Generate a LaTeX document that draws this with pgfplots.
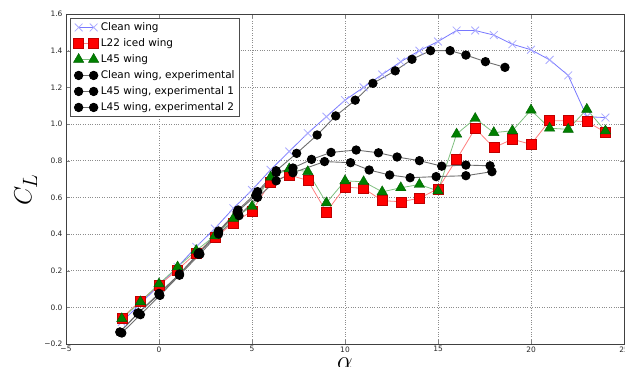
\documentclass[border=0pt]{standalone}
\usepackage{pgfplots}
\pgfplotsset{compat=1.18}
\usepackage{fontspec}
\setmainfont{DejaVu Sans}
\definecolor{cleanline}{RGB}{120,120,255}
\definecolor{cleanmark}{RGB}{170,170,255}
\definecolor{redline}{RGB}{255,128,128}
\definecolor{greenline}{RGB}{128,192,128}
\definecolor{mgreen}{RGB}{0,128,0}
\definecolor{grayline}{RGB}{110,110,110}

\pgfplotstableread{
a cl
-2 -0.08
-1 0.02
0 0.12
1 0.22
2 0.33
3 0.43
4 0.54
5 0.64
6 0.75
7 0.85
8 0.95
9 1.04
10 1.13
11 1.20
12 1.27
13 1.34
14 1.40
15 1.45
16 1.51
17 1.51
18 1.485
19 1.435
20 1.405
21 1.35
22 1.265
23 1.04
24 1.035
}\clean

\pgfplotstableread{
a cl
-2 -0.058
-1 0.035
0 0.12
1 0.205
2 0.296
3 0.38
4 0.46
5 0.525
6 0.683
7 0.722
8 0.692
9 0.52
10 0.656
11 0.649
12 0.582
13 0.576
14 0.595
15 0.647
16 0.807
17 0.976
18 0.871
19 0.917
20 0.889
21 1.018
22 1.018
23 1.013
24 0.955
}\lred

\pgfplotstableread{
a cl
-2 -0.062
-1 0.03
0 0.128
1 0.22
2 0.31
3 0.39
4 0.485
5 0.55
6 0.71
7 0.755
8 0.74
9 0.57
10 0.69
11 0.685
12 0.63
13 0.652
14 0.67
15 0.635
16 0.945
17 1.03
18 0.953
19 0.963
20 1.076
21 0.977
22 0.971
23 1.08
24 0.962
}\lgreen

\pgfplotstableread{
a cl
-2.1 -0.135
-1.15 -0.033
0.0 0.076
1.1 0.182
2.15 0.298
3.2 0.416
4.25 0.531
5.3 0.631
6.3 0.745
7.4 0.84
8.5 0.94
9.5 1.044
10.55 1.13
11.5 1.222
12.7 1.29
13.6 1.353
14.6 1.40
15.65 1.40
16.5 1.376
17.55 1.34
18.6 1.309
}\cleanexp

\pgfplotstableread{
a cl
-2.1 -0.135
-1.1 -0.03
0.0 0.07
1.1 0.18
2.1 0.29
3.2 0.41
4.2 0.52
5.2 0.61
6.3 0.735
7.2 0.76
8.2 0.807
9.25 0.845
10.6 0.858
11.8 0.843
12.8 0.82
14.0 0.80
15.2 0.77
16.5 0.776
17.8 0.772
}\expone

\pgfplotstableread{
a cl
-2.0 -0.14
-1.0 -0.04
0.05 0.065
1.1 0.175
2.2 0.29
3.2 0.40
4.3 0.50
5.3 0.60
6.3 0.69
7.2 0.734
8.9 0.795
10.3 0.789
11.3 0.749
12.4 0.722
13.5 0.707
14.9 0.713
16.5 0.718
17.9 0.74
}\exptwo

\begin{document}
\begin{tikzpicture}[x=1bp,y=1bp]
\begin{axis}[
  at={(66bp,23bp)}, anchor=south west,
  width=558bp, height=330bp, scale only axis,
  xmin=-5, xmax=25, ymin=-0.2, ymax=1.6,
  xtick={-5,0,5,10,15,20,25},
  xticklabels={−5,0,5,10,15,20,25},
  ytick={-0.2,0,0.2,0.4,0.6,0.8,1.0,1.2,1.4,1.6},
  yticklabels={−0.2,0.0,0.2,0.4,0.6,0.8,1.0,1.2,1.4,1.6},
  tick label style={font=\fontsize{7.5}{9}\selectfont, text=black!85},
  xticklabel style={yshift=1bp},
  tick align=inside, tick pos=both,
  major tick length=4bp,
  axis line style={black!75, line width=0.9bp},
  grid=major,
  major grid style={dotted, black!45, line width=0.5bp},
  xlabel={$\alpha$},
  ylabel={$C_L$},
  label style={font=\fontsize{28}{30}\selectfont},
  xlabel style={at={(axis description cs:0.5,-0.059)}, anchor=center},
  ylabel style={at={(axis description cs:-0.072,0.467)}, anchor=center},
  legend style={at={(0,1)}, anchor=north west, xshift=4bp, yshift=-4bp,
    draw=black!70, line width=0.9bp, fill=white,
    font=\fontsize{10.5}{12}\selectfont,
    nodes={text height=7.8bp, text depth=2.2bp, inner sep=2bp},
    row sep=2bp, inner xsep=3bp, inner ysep=2bp},
  legend cell align=left,
  legend image code/.code={\draw[#1] plot coordinates {(0bp,0bp) (15bp,0bp)};},
]
\addplot[cleanline, line width=0.8bp, mark=x, mark size=5.5bp,
  mark options={draw=cleanmark, line width=0.8bp}] table[x=a,y=cl]{\clean};
\addlegendentry{Clean wing}
\addplot[redline, line width=0.8bp, mark=square*, mark size=5bp,
  mark options={fill=red, draw=red!75!black, line width=0.4bp}] table[x=a,y=cl]{\lred};
\addlegendentry{L22 iced wing}
\addplot[greenline, line width=0.8bp, mark=triangle*, mark size=6bp,
  mark options={fill=mgreen, draw=mgreen!75!black, line width=0.4bp}] table[x=a,y=cl]{\lgreen};
\addlegendentry{L45 wing}
\addplot[grayline, line width=0.9bp, mark=*, mark size=4.2bp,
  mark options={fill=black, draw=black}] table[x=a,y=cl]{\cleanexp};
\addlegendentry{Clean wing, experimental}
\addplot[grayline, line width=0.9bp, mark=*, mark size=4.2bp,
  mark options={fill=black, draw=black}] table[x=a,y=cl]{\expone};
\addlegendentry{L45 wing, experimental 1}
\addplot[grayline, line width=0.9bp, mark=*, mark size=4.2bp,
  mark options={fill=black, draw=black}] table[x=a,y=cl]{\exptwo};
\addlegendentry{L45 wing, experimental 2}
\end{axis}
\pgfresetboundingbox
\useasboundingbox (0bp,0bp) rectangle (625bp,367bp);
\end{tikzpicture}
\end{document}
